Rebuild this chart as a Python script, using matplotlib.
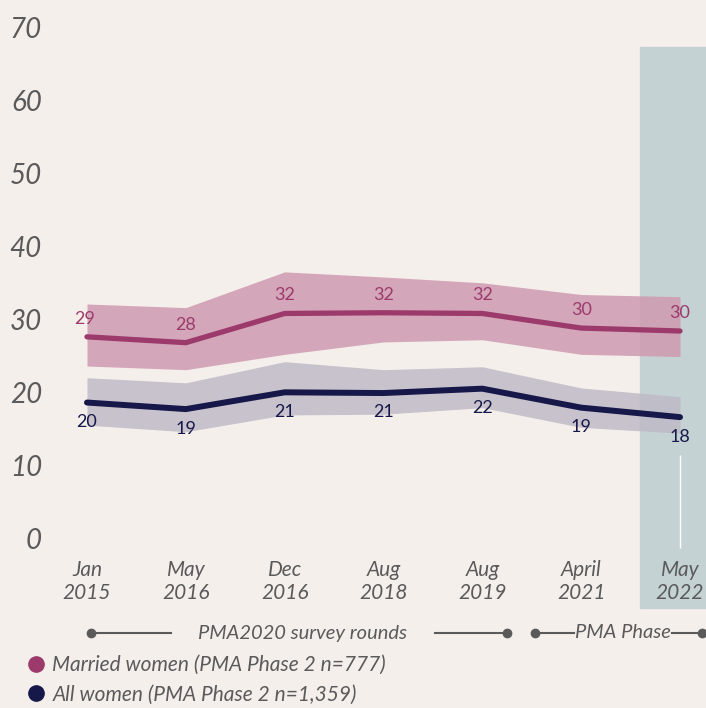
import matplotlib.pyplot as plt
from matplotlib.lines import Line2D
import matplotlib.transforms as mtransforms

rounds = ["Jan\n2015", "May\n2016", "Dec\n2016", "Aug\n2018", "Aug\n2019", "April\n2021", "May\n2022"]

married = [29.2, 28.4, 32.4, 32.5, 32.4, 30.4, 30.0]
married_lo = [25.2, 24.7, 26.8, 28.5, 28.8, 26.8, 26.5]
married_hi = [33.7, 33.2, 38.1, 37.4, 36.6, 35.0, 34.7]
married_lbl = ["29", "28", "32", "32", "32", "30", "30"]

allw = [20.2, 19.3, 21.6, 21.5, 22.1, 19.5, 18.2]
allw_lo = [17.1, 16.2, 18.5, 18.6, 19.5, 16.8, 16.0]
allw_hi = [23.6, 22.9, 25.8, 24.7, 25.1, 22.2, 21.0]
allw_lbl = ["20", "19", "21", "21", "22", "19", "18"]

yticks = [0, 10, 20, 30, 40, 50, 60, 70]

bg = "#f5efec"
c_mar, c_mar_band = "#9c3a6c", "#cf9ab0"
c_all, c_all_band = "#161849", "#bfbac6"
grey = "#5a5a5a"

plt.rcParams['font.family'] = ['Lato', 'DejaVu Sans']

W, H = 706, 708
fig = plt.figure(figsize=(W / 100, H / 100), dpi=100, facecolor=bg)
# axes: x pixel 60..706, y pixel 550 (value 0) .. 20
ax = fig.add_axes([60 / W, (H - 550) / H, 1 - 60 / W, 530 / H], facecolor=bg)
ax.set_xlim(-0.273, 6.263)
ax.set_ylim(0, 72.6)
for s in ax.spines.values():
    s.set_visible(False)

x = list(range(len(rounds)))

# PMA Phase highlight
ax.axvspan(5.595, 6.4, ymin=-0.109, ymax=0.949, color="#c5d2d4", zorder=0, clip_on=False)
ax.vlines(6, 0.3, 13, color="white", lw=1, zorder=1)

ax.fill_between(x, married_lo, married_hi, color=c_mar_band, alpha=0.85, lw=0, zorder=2)
ax.fill_between(x, allw_lo, allw_hi, color=c_all_band, alpha=0.85, lw=0, zorder=2)
ax.plot(x, married, color=c_mar, lw=3.8, solid_capstyle='round', solid_joinstyle='round', zorder=3)
ax.plot(x, allw, color=c_all, lw=4.3, solid_capstyle='round', solid_joinstyle='round', zorder=3)

for xi, v, t in zip(x, married, married_lbl):
    ax.annotate(t, (xi, v), xytext=(-2 if xi == 0 else 0, 13), textcoords='offset points',
                ha='center', va='center', color=c_mar, fontsize=13)
for xi, v, t in zip(x, allw, allw_lbl):
    ax.annotate(t, (xi, v), xytext=(0, -14), textcoords='offset points',
                ha='center', va='center', color=c_all, fontsize=13)

ax.set_xticks(x)
ax.set_xticklabels(rounds, fontsize=15, style='italic', color=grey, linespacing=1.2)
ax.tick_params(length=0, axis='y', pad=13)
ax.tick_params(length=0, axis='x', pad=7)
ax.set_yticks(yticks)
ax.set_yticklabels([str(v) for v in yticks], fontsize=20, style='italic', color=grey)
up = mtransforms.ScaledTranslation(0, 8 / 72, fig.dpi_scale_trans)
for lab in ax.get_yticklabels():
    lab.set_transform(lab.get_transform() + up)


def px(xp, yp):
    return xp / W, 1 - yp / H


def bracket(x0, x1, y):
    a, b = px(x0, y)
    c, _ = px(x1, y)
    fig.add_artist(Line2D([a, c], [b, b], color=grey, lw=1.5))


yb = 633
for (a, b) in [(91, 171), (435, 507), (535, 574), (672, 702)]:
    bracket(a, b, yb)
for xd in [91, 507, 535, 702]:
    p = px(xd, yb)
    fig.add_artist(Line2D([p[0]], [p[1]], marker='o', ms=6, color=grey))
fig.text(*px(302, yb), "PMA2020 survey rounds", ha='center', va='center',
         fontsize=14.5, style='italic', color=grey)
fig.text(*px(623, yb), "PMA Phase", ha='center', va='center',
         fontsize=14.5, style='italic', color=grey)

handles = [Line2D([], [], ls='none', marker='o', ms=11, color=c_mar),
           Line2D([], [], ls='none', marker='o', ms=11, color=c_all)]
fig.legend(handles, ["Married women (PMA Phase 2 n=777)", "All women (PMA Phase 2 n=1,359)"],
           loc='lower left', bbox_to_anchor=(0.012, -0.016), frameon=False,
           handletextpad=0.2, labelspacing=0.45, borderpad=0.2,
           prop={'size': 15, 'style': 'italic'}, labelcolor=grey, handlelength=1.2)

fig.savefig("out.png", dpi=100, facecolor=bg)
